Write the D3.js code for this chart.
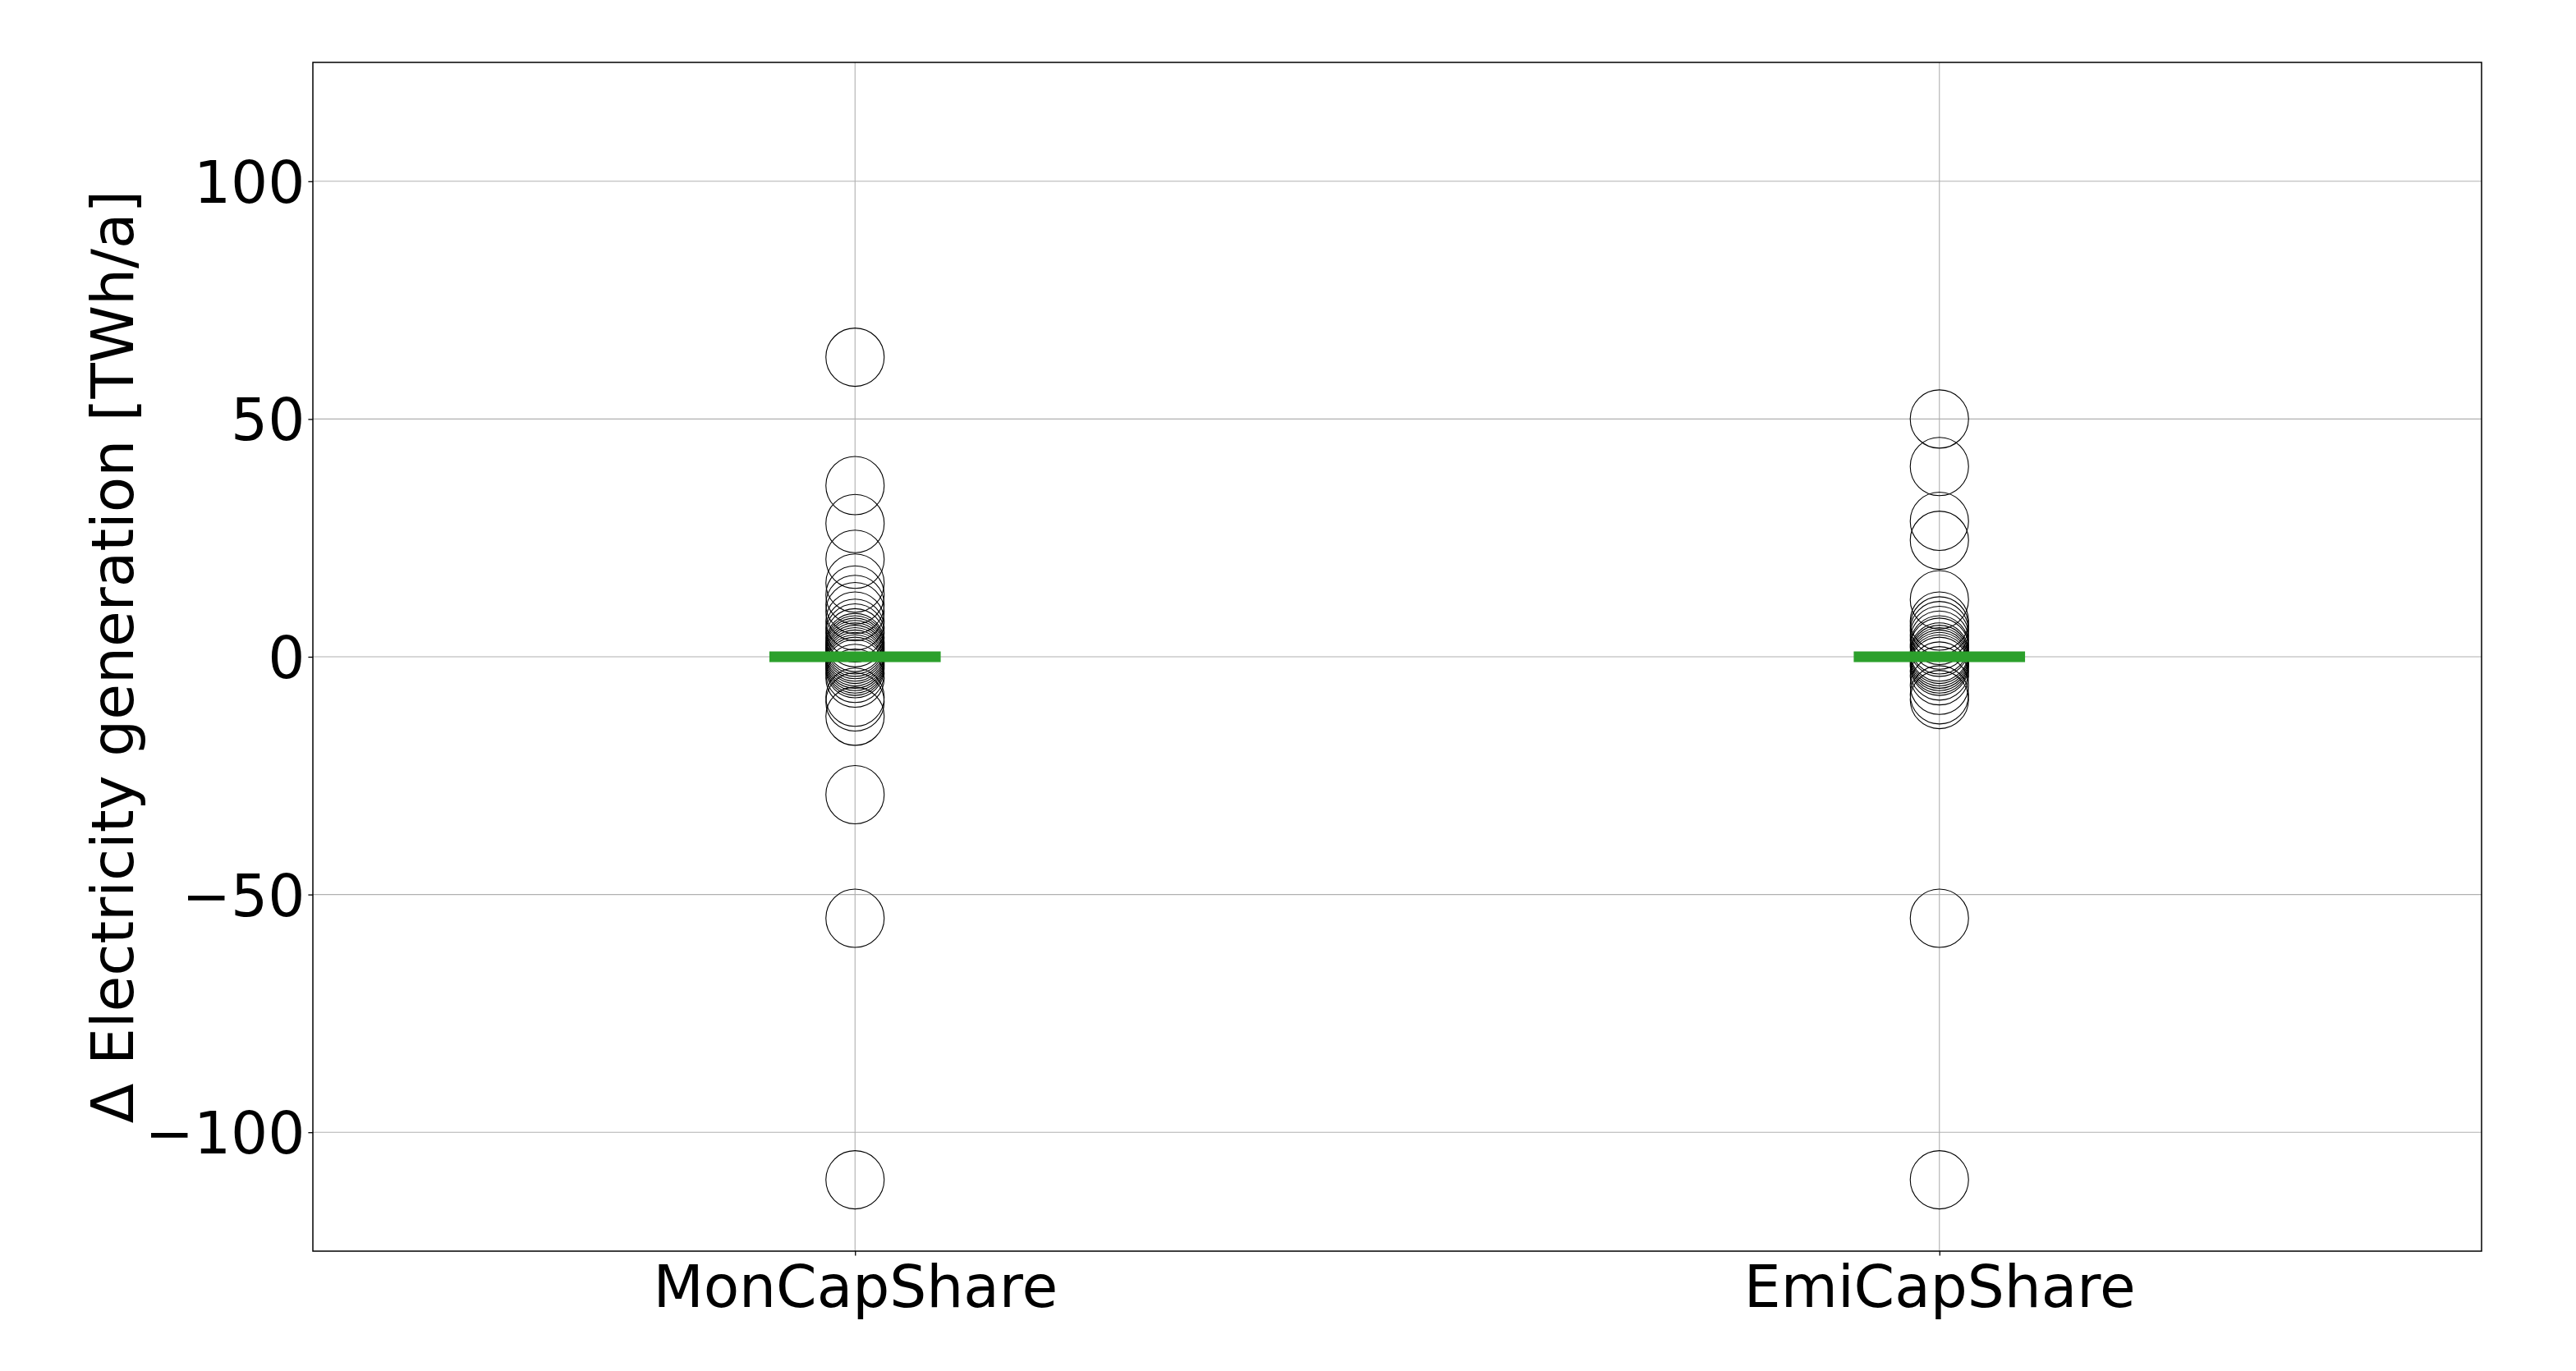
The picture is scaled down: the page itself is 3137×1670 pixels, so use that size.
<!DOCTYPE html>
<html>
<head>
<meta charset="utf-8">
<script src="https://cdn.jsdelivr.net/npm/d3@7"></script>
<style>
  html, body { margin: 0; padding: 0; background: #fff; }
  svg { display: block; font-family: "DejaVu Sans", sans-serif; }
</style>
</head>
<body>
<svg id="chart" width="3137" height="1670"></svg>
<script>
// ---- data ----
const categories = ["MonCapShare", "EmiCapShare"];
const monCapShare = [63, 36, 28, 20.5, 15.5, 13, 11, 9.5, 7.5, 6, 5, 4, 3, 2.5, 2, 1.5, 1, 0.5, 0,
                     -0.5, -1, -1.5, -2, -2.5, -3.5, -4.5, -8.5, -9.5, -12.5, -29, -55, -110];
const emiCapShare = [50, 40, 28.5, 24.5, 12, 7.5, 6.5, 5.5, 4.5, 3.5, 2.5, 2, 1, 0.5, 0,
                     -0.5, -1, -1.5, -2, -3, -4, -6, -8, -9, -55, -110];
const medians = [0, 0];
const yTicks = [-100, -50, 0, 50, 100];
const yLabel = "\u0394 Electricity generation [TWh/a]";

const seriesValues = [monCapShare, emiCapShare];

// ---- layout ----
const W = 3137, H = 1670;
const margin = { left: 381, top: 76, right: W - 3022, bottom: H - 1524 };
const pw = W - margin.left - margin.right;
const ph = H - margin.top - margin.bottom;
const fontSize = 71;

const svg = d3.select("#chart");
const g = svg.append("g").attr("transform", `translate(${margin.left},${margin.top})`);

const x = d3.scaleLinear().domain([-0.5, 1.5]).range([0, pw]);
const y = d3.scaleLinear().domain([-125, 125]).range([ph, 0]);

// grid
const grid = g.append("g");
grid.selectAll("line.gy").data(yTicks).join("line")
  .attr("x1", 0).attr("x2", pw)
  .attr("y1", d => y(d)).attr("y2", d => y(d))
  .attr("stroke", "#b0b0b0").attr("stroke-width", 1.1);
grid.selectAll("line.gx").data(categories).join("line")
  .attr("x1", (d, i) => x(i)).attr("x2", (d, i) => x(i))
  .attr("y1", 0).attr("y2", ph)
  .attr("stroke", "#b0b0b0").attr("stroke-width", 1.1);

// points
const pts = [];
seriesValues.forEach((vals, i) => vals.forEach(v => pts.push({ i, v })));
g.append("g").selectAll("circle").data(pts).join("circle")
  .attr("cx", d => x(d.i)).attr("cy", d => y(d.v))
  .attr("r", 35.5)
  .attr("fill", "none").attr("stroke", "#000").attr("stroke-width", 1.1);

// medians
g.append("g").selectAll("line").data(medians).join("line")
  .attr("x1", (d, i) => x(i - 0.079)).attr("x2", (d, i) => x(i + 0.079))
  .attr("y1", d => y(d)).attr("y2", d => y(d))
  .attr("stroke", "#2ca02c").attr("stroke-width", 13);

// axes
const fmt = d => (d < 0 ? "\u2212" + Math.abs(d) : String(d));
const yAxis = g.append("g").call(d3.axisLeft(y).tickValues(yTicks).tickFormat(fmt).tickSize(5.6).tickPadding(4));
const xAxis = g.append("g").attr("transform", `translate(0,${ph})`)
  .call(d3.axisBottom(x).tickValues([0, 1]).tickFormat(i => categories[i]).tickSize(5.6).tickPadding(8));
[yAxis, xAxis].forEach(a => {
  a.select(".domain").remove();
  a.selectAll(".tick line").attr("stroke", "#000").attr("stroke-width", 1.3);
  a.selectAll("text").attr("font-size", fontSize).attr("font-family", "DejaVu Sans").attr("fill", "#000");
});
yAxis.selectAll("text").attr("dy", "0.36em");
xAxis.selectAll("text").attr("dy", "0.766em");

// frame
g.append("rect").attr("x", 0).attr("y", 0).attr("width", pw).attr("height", ph)
  .attr("fill", "none").attr("stroke", "#000").attr("stroke-width", 1.5);

// y label
svg.append("text")
  .attr("transform", `translate(162,${margin.top + ph / 2}) rotate(-90)`)
  .attr("text-anchor", "middle")
  .attr("font-size", fontSize)
  .attr("font-family", "DejaVu Sans")
  .attr("fill", "#000")
  .text(yLabel);
</script>
</body>
</html>
